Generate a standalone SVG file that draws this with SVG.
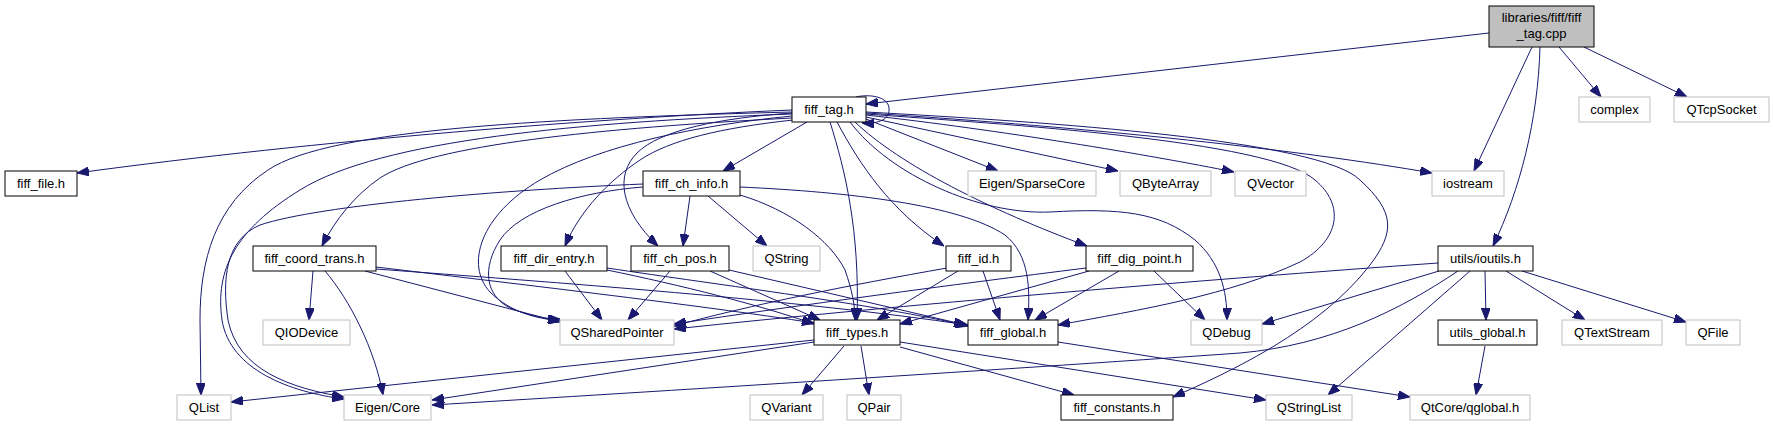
<svg xmlns="http://www.w3.org/2000/svg" width="1773" height="427" viewBox="0 0 1773 427">
<style>
.n rect{fill:#fff;stroke:#000;stroke-width:1}
.g rect{fill:#fff;stroke:#bfbfbf;stroke-width:1}
.c rect{fill:#bfbfbf;stroke:#000;stroke-width:1}
text{font-family:"Liberation Sans",Arial,Helvetica,sans-serif;font-size:13px;fill:#000;text-anchor:middle}
#edges path{fill:none;stroke:#191970;stroke-width:1;marker-end:url(#a)}
</style>
<defs>
<marker id="a" markerWidth="12" markerHeight="9" refX="12" refY="4.5" orient="auto" markerUnits="userSpaceOnUse">
<path d="M0,0 L12,4.5 L0,9 z" fill="#191970" stroke="#191970" stroke-width="1"/>
</marker>
</defs>
<rect width="1773" height="427" fill="#fff"/>
<g id="edges">
<path d="M1489,33 L866,104"/>
<path d="M1532,47 L1474,171"/>
<path d="M1559,47 L1601,97"/>
<path d="M1584,47 L1687,97"/>
<path d="M1540,47 C1538,120 1520,190 1493,246"/>
<path d="M856,97 C868,94 888,96 889,108 C890,119 880,124 862,123"/>
<path d="M792,110 C600,118 320,140 77,173"/>
<path d="M792,112 C560,118 330,128 268,170 C215,205 200,260 200,320 L201,395"/>
<path d="M792,114 C580,122 380,140 300,190 C235,230 215,270 222,320 C230,370 290,392 344,399"/>
<path d="M792,118 C600,128 430,145 380,178 C355,195 335,220 322,246"/>
<path d="M792,116 C700,125 600,145 540,180 C480,215 465,265 490,292 C510,312 535,318 560,321"/>
<path d="M807,122 L723,171"/>
<path d="M793,120 C720,128 670,140 640,160 C610,180 580,210 565,246"/>
<path d="M792,113 C720,118 660,130 637,153 C615,175 620,210 658,246"/>
<path d="M830,122 C845,170 860,230 857,320"/>
<path d="M837,122 C860,165 890,210 944,246"/>
<path d="M855,122 C900,165 990,210 1087,246"/>
<path d="M850,122 C890,175 980,215 1050,212 C1120,208 1160,212 1195,240 C1220,262 1227,290 1227,320"/>
<path d="M866,119 L998,171"/>
<path d="M866,117 L1118,171"/>
<path d="M866,115 C1000,130 1150,155 1234,172"/>
<path d="M866,113 C1100,128 1300,150 1432,173"/>
<path d="M866,114 C1000,124 1270,140 1315,180 C1345,205 1340,240 1300,262 C1230,295 1140,310 1058,325"/>
<path d="M866,112 C1050,122 1320,140 1360,180 C1395,212 1395,232 1370,265 C1320,330 1230,372 1173,397"/>
<path d="M643,184 C500,190 320,205 260,225 C225,240 222,280 228,320 C238,370 290,388 344,397"/>
<path d="M643,187 C580,192 520,210 500,240 C482,268 485,295 510,308 C530,316 545,319 560,319"/>
<path d="M690,196 L683,246"/>
<path d="M708,196 L767,246"/>
<path d="M740,195 C790,210 830,240 845,270 C852,290 855,305 855,320"/>
<path d="M740,187 C850,192 960,205 1005,235 C1030,255 1030,290 1028,320"/>
<path d="M313,271 L309,320"/>
<path d="M325,271 C350,300 375,350 383,395"/>
<path d="M365,271 L560,322"/>
<path d="M376,267 C500,282 700,305 814,323"/>
<path d="M376,269 C550,282 800,300 968,325"/>
<path d="M565,271 L602,320"/>
<path d="M607,270 C680,285 760,305 814,324"/>
<path d="M607,268 C720,285 880,305 968,326"/>
<path d="M670,271 L628,320"/>
<path d="M710,271 L820,320"/>
<path d="M729,270 L966,325"/>
<path d="M947,268 C850,285 750,305 674,326"/>
<path d="M958,271 L877,320"/>
<path d="M983,271 L1000,320"/>
<path d="M1086,268 C950,285 800,305 674,324"/>
<path d="M1089,271 L900,324"/>
<path d="M1119,271 L1035,320"/>
<path d="M1154,271 L1205,320"/>
<path d="M1438,263 C1200,280 900,305 674,329"/>
<path d="M1439,271 L1262,324"/>
<path d="M1458,271 C1400,310 1330,345 1240,353 C1000,370 600,395 432,405"/>
<path d="M1470,271 L1328,395"/>
<path d="M1485,271 L1486,320"/>
<path d="M1506,271 L1585,320"/>
<path d="M1522,271 L1686,322"/>
<path d="M1485,346 L1476,395"/>
<path d="M1058,342 L1410,397"/>
<path d="M814,340 L231,402"/>
<path d="M814,342 L432,400"/>
<path d="M844,346 L802,395"/>
<path d="M861,346 L869,395"/>
<path d="M900,347 L1074,395"/>
<path d="M900,342 L1266,400"/>
</g>
<g id="n_cpp" class="c"><rect x="1489" y="6" width="105" height="41"/><text x="1541.5" y="22">libraries/fiff/fiff</text><text x="1541.5" y="38">_tag.cpp</text></g>
<g id="n_fiff_tag" class="n"><rect x="792" y="97" width="74" height="25"/><text x="829" y="114">fiff_tag.h</text></g>
<g id="n_complex" class="g"><rect x="1579" y="97" width="71" height="25"/><text x="1614.5" y="114">complex</text></g>
<g id="n_qtcpsocket" class="g"><rect x="1674" y="97" width="95" height="25"/><text x="1721.5" y="114">QTcpSocket</text></g>
<g id="n_fiff_file" class="n"><rect x="5" y="171" width="72" height="25"/><text x="41" y="188">fiff_file.h</text></g>
<g id="n_fiff_ch_info" class="n"><rect x="643" y="171" width="97" height="25"/><text x="691.5" y="188">fiff_ch_info.h</text></g>
<g id="n_sparsecore" class="g"><rect x="968" y="171" width="128" height="25"/><text x="1032" y="188">Eigen/SparseCore</text></g>
<g id="n_qbytearray" class="g"><rect x="1120" y="171" width="91" height="25"/><text x="1165.5" y="188">QByteArray</text></g>
<g id="n_qvector" class="g"><rect x="1235" y="171" width="71" height="25"/><text x="1270.5" y="188">QVector</text></g>
<g id="n_iostream" class="g"><rect x="1432" y="171" width="72" height="25"/><text x="1468" y="188">iostream</text></g>
<g id="n_coord_trans" class="n"><rect x="253" y="246" width="123" height="25"/><text x="314.5" y="263">fiff_coord_trans.h</text></g>
<g id="n_dir_entry" class="n"><rect x="501" y="246" width="106" height="25"/><text x="554" y="263">fiff_dir_entry.h</text></g>
<g id="n_ch_pos" class="n"><rect x="631" y="246" width="98" height="25"/><text x="680" y="263">fiff_ch_pos.h</text></g>
<g id="n_qstring" class="g"><rect x="753" y="246" width="67" height="25"/><text x="786.5" y="263">QString</text></g>
<g id="n_fiff_id" class="n"><rect x="946" y="246" width="65" height="25"/><text x="978.5" y="263">fiff_id.h</text></g>
<g id="n_dig_point" class="n"><rect x="1086" y="246" width="107" height="25"/><text x="1139.5" y="263">fiff_dig_point.h</text></g>
<g id="n_ioutils" class="n"><rect x="1438" y="246" width="95" height="25"/><text x="1485.5" y="263">utils/ioutils.h</text></g>
<g id="n_qiodevice" class="g"><rect x="263" y="320" width="87" height="25"/><text x="306.5" y="337">QIODevice</text></g>
<g id="n_qsharedpointer" class="g"><rect x="560" y="320" width="114" height="25"/><text x="617" y="337">QSharedPointer</text></g>
<g id="n_fiff_types" class="n"><rect x="814" y="320" width="86" height="25"/><text x="857" y="337">fiff_types.h</text></g>
<g id="n_fiff_global" class="n"><rect x="968" y="320" width="90" height="25"/><text x="1013" y="337">fiff_global.h</text></g>
<g id="n_qdebug" class="g"><rect x="1191" y="320" width="71" height="25"/><text x="1226.5" y="337">QDebug</text></g>
<g id="n_utils_global" class="n"><rect x="1438" y="320" width="99" height="25"/><text x="1487.5" y="337">utils_global.h</text></g>
<g id="n_qtextstream" class="g"><rect x="1562" y="320" width="100" height="25"/><text x="1612" y="337">QTextStream</text></g>
<g id="n_qfile" class="g"><rect x="1686" y="320" width="54" height="25"/><text x="1713" y="337">QFile</text></g>
<g id="n_qlist" class="g"><rect x="177" y="395" width="54" height="25"/><text x="204" y="412">QList</text></g>
<g id="n_eigen_core" class="g"><rect x="344" y="395" width="87" height="25"/><text x="387.5" y="412">Eigen/Core</text></g>
<g id="n_qvariant" class="g"><rect x="750" y="395" width="73" height="25"/><text x="786.5" y="412">QVariant</text></g>
<g id="n_qpair" class="g"><rect x="847" y="395" width="54" height="25"/><text x="874" y="412">QPair</text></g>
<g id="n_fiff_constants" class="n"><rect x="1061" y="395" width="112" height="25"/><text x="1117" y="412">fiff_constants.h</text></g>
<g id="n_qstringlist" class="g"><rect x="1266" y="395" width="86" height="25"/><text x="1309" y="412">QStringList</text></g>
<g id="n_qglobal" class="g"><rect x="1410" y="395" width="120" height="25"/><text x="1470" y="412">QtCore/qglobal.h</text></g>
</svg>
